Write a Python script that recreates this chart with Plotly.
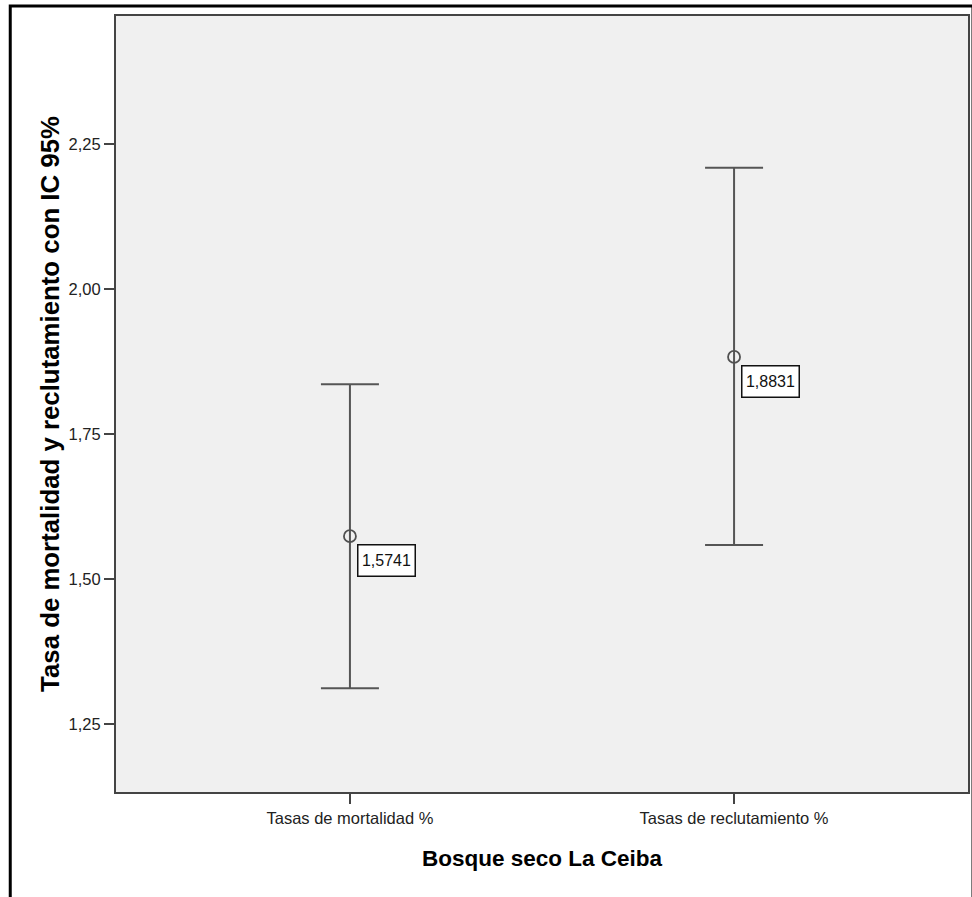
import plotly.graph_objects as go

# Data
categories = ["Tasas de mortalidad %", "Tasas de reclutamiento %"]
means = [1.5741, 1.8831]
upper_ci = [1.836, 2.209]
lower_ci = [1.312, 1.559]
mean_labels = ["1,5741", "1,8831"]
y_ticks = [1.25, 1.50, 1.75, 2.00, 2.25]

err_plus = [u - m for u, m in zip(upper_ci, means)]
err_minus = [m - l for m, l in zip(means, lower_ci)]

fig = go.Figure()
fig.add_trace(go.Scatter(
    x=categories, y=means, mode="markers",
    marker=dict(symbol="circle-open", size=12, color="#505050", line=dict(width=1.8, color="#505050")),
    error_y=dict(type="data", symmetric=False, array=err_plus, arrayminus=err_minus,
                 color="#555555", thickness=2, width=29),
    showlegend=False, hoverinfo="skip",
))

for c, m, t in zip(categories, means, mean_labels):
    fig.add_annotation(
        x=c, y=m, xref="x", yref="y", text=t, showarrow=False,
        xanchor="left", yanchor="top", xshift=7, yshift=-8,
        width=50, height=24,
        font=dict(family="Arial, Liberation Sans, sans-serif", size=16, color="#111111"),
        bgcolor="white", bordercolor="#111111", borderwidth=1.5, borderpad=3,
    )

# Outer frame around the whole chart
fig.add_shape(type="rect", xref="paper", yref="paper",
              x0=(10 - 116) / 854, x1=(975 - 116) / 854,
              y0=(792 - 905) / 776, y1=1 + (16 - 6) / 776,
              line=dict(color="black", width=3), fillcolor="rgba(0,0,0,0)", layer="below")

fig.update_layout(
    width=972, height=897,
    margin=dict(l=116, r=2, t=16, b=105),
    paper_bgcolor="white", plot_bgcolor="#f0f0f0",
    separators=",.",
    font=dict(family="Arial, Liberation Sans, sans-serif", color="#222222"),
    xaxis=dict(
        type="category", range=[-0.609, 1.609],
        showline=True, mirror=True, linecolor="#444444", linewidth=2,
        ticks="outside", ticklen=10, tickwidth=2, tickcolor="#444444",
        showgrid=False, zeroline=False,
        tickfont=dict(size=16.5, color="#222222"),
        title=dict(text="Bosque seco La Ceiba", standoff=24,
                   font=dict(size=22.5, color="black", weight="bold")),
    ),
    yaxis=dict(
        range=[1.1333, 2.4706],
        tickvals=y_ticks, tickformat=".2f",
        showline=True, mirror=True, linecolor="#444444", linewidth=2,
        ticks="outside", ticklen=10, tickwidth=2, tickcolor="#444444",
        showgrid=False, zeroline=False,
        tickfont=dict(size=16.5, color="#222222"),
        title=dict(text="Tasa de mortalidad y reclutamiento con IC 95%", standoff=2,
                   font=dict(size=25.8, color="black", weight="bold")),
    ),
)

fig.write_html("out.html", config={"displayModeBar": False},
               post_script="document.body.style.margin='0';document.body.style.overflow='hidden';")
